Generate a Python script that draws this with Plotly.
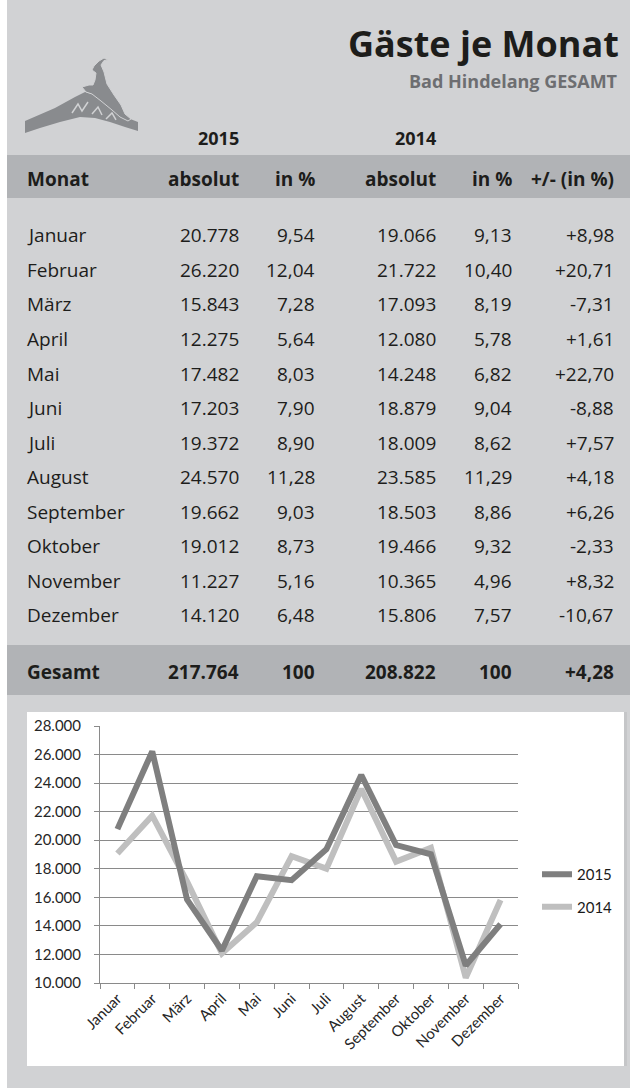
import plotly.graph_objects as go

W, H = 630, 1088

months = ["Januar", "Februar", "März", "April", "Mai", "Juni", "Juli",
          "August", "September", "Oktober", "November", "Dezember"]
abs_2015 = [20778, 26220, 15843, 12275, 17482, 17203, 19372, 24570, 19662, 19012, 11227, 14120]
pct_2015 = [9.54, 12.04, 7.28, 5.64, 8.03, 7.90, 8.90, 11.28, 9.03, 8.73, 5.16, 6.48]
abs_2014 = [19066, 21722, 17093, 12080, 14248, 18879, 18009, 23585, 18503, 19466, 10365, 15806]
pct_2014 = [9.13, 10.40, 8.19, 5.78, 6.82, 9.04, 8.62, 11.29, 8.86, 9.32, 4.96, 7.57]
change = [8.98, 20.71, -7.31, 1.61, 22.70, -8.88, 7.57, 4.18, 6.26, -2.33, 8.32, -10.67]
total_2015 = 217764
total_2014 = 208822
total_change = 4.28
header_cols = ["Monat", "absolut", "in %", "absolut", "in %", "+/- (in %)"]
years = ["2015", "2014"]
y_ticks = [10000, 12000, 14000, 16000, 18000, 20000, 22000, 24000, 26000, 28000]

BG = "#d1d2d4"
BAND = "#b1b3b6"
TXT = "#1d1d1b"
DARK = "#7f7f7f"
LIGHT = "#bfbfbf"
GRID = "#8a8a8a"
LOGO = "#898b8e"
FONT = "Open Sans"


def px(x):
    return x / W


def py(y):
    return 1 - y / H


def de_int(v):
    return f"{v:,}".replace(",", ".")


def de_dec(v, sign=False):
    s = f"{v:+.2f}" if sign else f"{v:.2f}"
    return s.replace(".", ",")


fig = go.Figure()
fig.add_trace(go.Scatter(x=months, y=abs_2014, mode="lines", name="2014",
                         line=dict(color=LIGHT, width=6), legendgroup="b", legendrank=2))
fig.add_trace(go.Scatter(x=months, y=abs_2015, mode="lines", name="2015",
                         line=dict(color=DARK, width=6), legendgroup="a", legendrank=1))

shapes = []
shapes.append(dict(type="rect", xref="paper", yref="paper", x0=0, x1=px(7), y0=0, y1=1,
                   fillcolor="white", line=dict(width=0), layer="below"))
shapes.append(dict(type="rect", xref="paper", yref="paper", x0=px(7), x1=1, y0=py(198), y1=py(155),
                   fillcolor=BAND, line=dict(width=0), layer="below"))
shapes.append(dict(type="rect", xref="paper", yref="paper", x0=px(7), x1=1, y0=py(695), y1=py(645),
                   fillcolor=BAND, line=dict(width=0), layer="below"))
shapes.append(dict(type="rect", xref="paper", yref="paper", x0=px(27), x1=px(627), y0=py(1066), y1=py(712),
                   fillcolor="#c5c6c8", line=dict(width=0), layer="below"))
shapes.append(dict(type="rect", xref="paper", yref="paper", x0=px(27), x1=px(624), y0=py(1066), y1=py(712),
                   fillcolor="white", line=dict(width=0), layer="below"))


def pth(points, close=True):
    d = "M " + " L ".join(f"{px(x):.5f},{py(y):.5f}" for x, y in points)
    return d + (" Z" if close else "")


mountain = [(25, 121), (55, 108), (75, 97), (85, 92), (95, 95), (105, 103), (115, 110),
            (125, 117), (138, 122), (138, 131), (125, 127), (110, 122), (95, 118), (80, 117),
            (60, 122), (40, 128), (25, 133)]
chamois = [(96, 64), (99, 61), (104, 58), (108, 60), (104, 60.5), (101, 65), (104, 72),
           (107, 84), (114, 95), (121, 105), (125, 114), (131, 119), (128, 121), (120, 117),
           (112, 110), (101, 101), (92, 94), (86, 92), (82, 87), (89, 85), (93, 85), (95, 80),
           (96, 73), (92, 70), (94, 66)]
shapes.append(dict(type="path", xref="paper", yref="paper", path=pth(mountain),
                   fillcolor=LOGO, line=dict(width=0), layer="below"))
shapes.append(dict(type="path", xref="paper", yref="paper", path=pth(chamois),
                   fillcolor=LOGO, line=dict(color=BG, width=1), layer="below"))
for seg in [[(72, 113), (78, 104), (82, 111), (88, 102)], [(92, 114), (98, 107), (102, 115)],
            [(106, 119), (112, 113), (116, 120)]]:
    shapes.append(dict(type="path", xref="paper", yref="paper", path=pth(seg, close=False),
                       line=dict(color=BG, width=1.5), layer="below"))

ann = []


def text(x, y, s, size=19, bold=False, anchor="right", color=TXT):
    ann.append(dict(xref="paper", yref="paper", x=px(x), y=py(y), text=f"<b>{s}</b>" if bold else s,
                    showarrow=False, xanchor=anchor, yanchor="middle",
                    font=dict(family=FONT, size=size, color=color)))


text(621, 43, "Gäste je Monat", size=36, bold=True)
text(620, 81, "Bad Hindelang GESAMT", size=18, bold=True, color="#6d6e71")
text(241, 138, years[0], size=18, bold=True)
text(438, 138, years[1], size=18, bold=True)

col_right = [241, 317, 438, 514, 616]
text(25, 179, header_cols[0], bold=True, anchor="left")
for cx, h in zip(col_right, header_cols[1:]):
    text(cx, 179, h, bold=True)

row0, step = 235.5, 34.5
for i, m in enumerate(months):
    yy = row0 + i * step
    text(25, yy, m, anchor="left")
    vals = [de_int(abs_2015[i]), de_dec(pct_2015[i]), de_int(abs_2014[i]),
            de_dec(pct_2014[i]), de_dec(change[i], sign=True)]
    for cx, v in zip(col_right, vals):
        text(cx, yy, v)

text(25, 672, "Gesamt", bold=True, anchor="left")
for cx, v in zip(col_right, [de_int(total_2015), "100", de_int(total_2014), "100",
                             de_dec(total_change, sign=True)]):
    text(cx, 672, v, bold=True)

fig.update_layout(
    width=W, height=H,
    margin=dict(l=0, r=0, t=0, b=0, autoexpand=False),
    paper_bgcolor=BG, plot_bgcolor="rgba(0,0,0,0)",
    separators=",.",
    shapes=shapes, annotations=ann,
    showlegend=True,
    legend=dict(x=px(537), y=py(858), xanchor="left", yanchor="top",
                font=dict(family="Lato", size=15, color="#1a1a1a"),
                bgcolor="rgba(0,0,0,0)", tracegroupgap=10, itemwidth=30),
    xaxis=dict(domain=[px(100), px(518)], anchor="y", range=[-0.5, 11.5], automargin=False,
               tickson="boundaries", ticks="outside", ticklen=5, tickcolor=GRID,
               showline=True, linecolor=GRID, linewidth=1, showgrid=False,
               tickangle=-45, tickfont=dict(family="Lato", size=15, color="#262626")),
    yaxis=dict(domain=[py(983), py(726)], anchor="x", range=[10000, 28000], automargin=False,
               tickvals=y_ticks, tickformat=",.0f",
               ticks="outside", ticklen=5, tickcolor=GRID,
               showline=True, linecolor=GRID, linewidth=1,
               showgrid=True, gridcolor=GRID, gridwidth=1, zeroline=False,
               ticklabelstandoff=10,
               tickfont=dict(family="Lato", size=15, color="#262626")),
)

post = ("document.documentElement.style.margin='0';"
        "document.body.style.margin='0';document.body.style.padding='0';"
        "document.body.style.overflow='hidden';")
fig.write_html("out.html", config={"displayModeBar": False}, post_script=post)
